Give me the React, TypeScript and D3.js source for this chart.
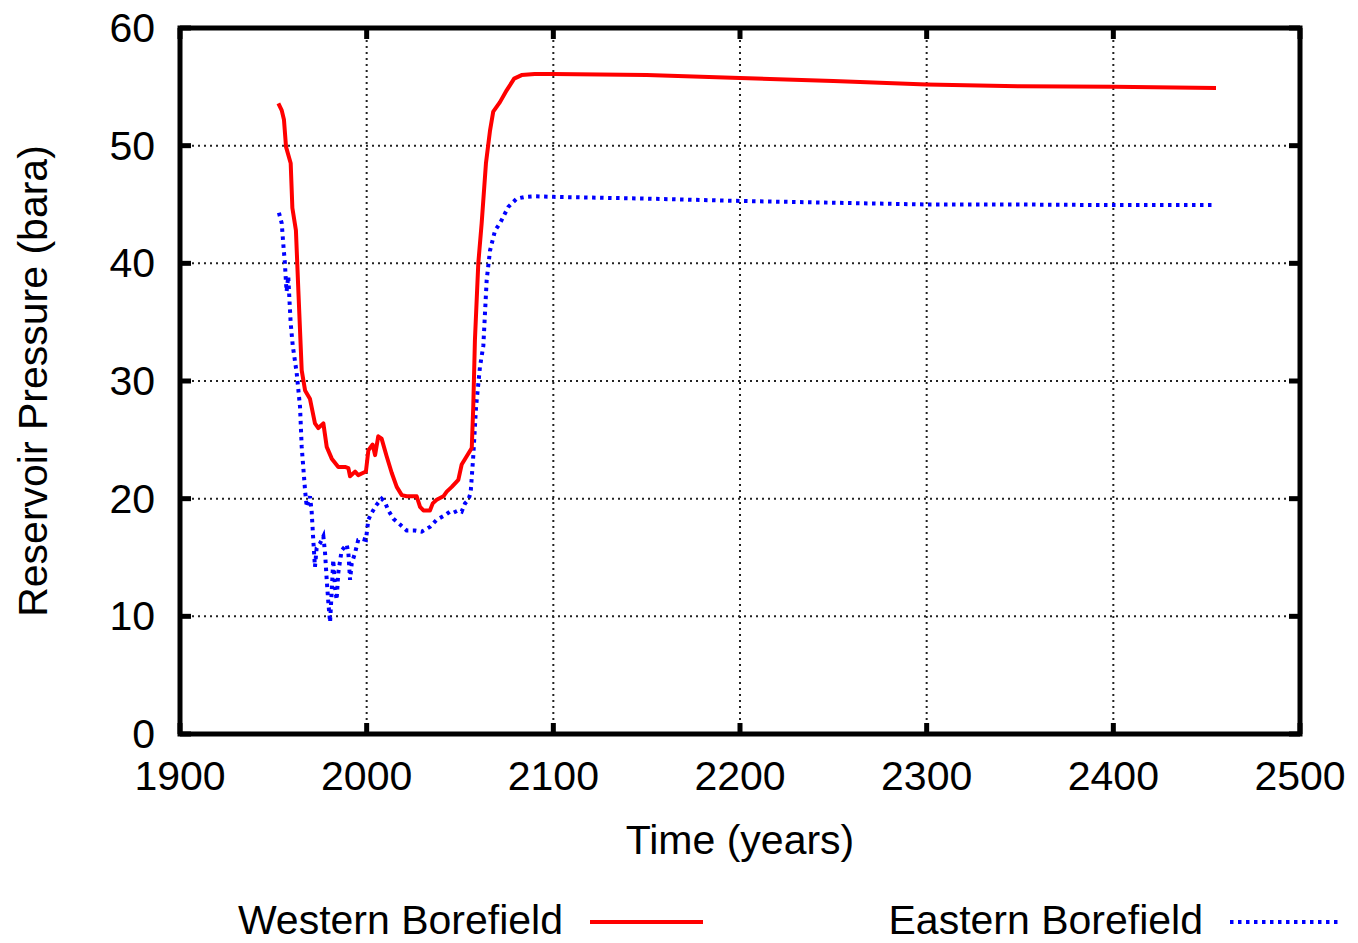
import React from "react";
import * as d3 from "d3";

// Western borefield (red, solid)
const westernYears = [1952.7, 1954.5, 1955.7, 1956.8, 1959.3, 1960.2, 1962.1, 1963.4, 1964.7, 1965.2, 1967, 1969.6, 1972.3, 1974.1, 1976.8, 1978.6, 1981.3, 1984.8, 1988.4, 1990.2, 1991.1, 1993.8, 1995.5, 1998.2, 1999.6, 2000.9, 2003.2, 2004.5, 2006.2, 2008, 2010.7, 2013.4, 2016.1, 2018.8, 2021.4, 2026.8, 2028.6, 2030.4, 2033.9, 2035.4, 2037.5, 2041.1, 2042.9, 2045.6, 2049.1, 2050.9, 2053.6, 2056.3, 2057.1, 2058, 2059.8, 2061.6, 2063.9, 2066.1, 2067.8, 2071.4, 2075, 2079, 2083, 2090, 2100, 2150, 2200, 2250, 2300, 2350, 2400, 2455];
const westernPressure = [53.6, 53.0, 52.2, 49.9, 48.5, 44.7, 42.8, 37.7, 32.8, 30.9, 29.2, 28.5, 26.4, 26.0, 26.4, 24.4, 23.4, 22.7, 22.7, 22.6, 21.9, 22.3, 22.0, 22.2, 22.3, 24.1, 24.6, 23.7, 25.3, 25.1, 23.6, 22.2, 21.0, 20.3, 20.2, 20.2, 19.3, 19.0, 19.0, 19.6, 19.9, 20.2, 20.6, 21.0, 21.6, 22.9, 23.6, 24.3, 27.8, 33.5, 40.0, 43.4, 48.5, 51.3, 52.9, 53.7, 54.7, 55.7, 56.0, 56.1, 56.1, 56.0, 55.75, 55.5, 55.2, 55.05, 55.0, 54.9];

// Eastern borefield (blue, dotted)
const easternYears = [1953, 1954.5, 1955.3, 1956.2, 1956.8, 1957.1, 1958, 1958.6, 1959.3, 1960.4, 1962.5, 1964.3, 1965.2, 1967, 1967.9, 1969.6, 1970.5, 1971.4, 1972.3, 1973.2, 1975, 1976.8, 1977.7, 1978.6, 1979.5, 1980.4, 1981.3, 1982.1, 1983, 1983.9, 1984.8, 1986.6, 1989.3, 1990.2, 1991.1, 1992, 1993.8, 1995.5, 1997.3, 1999.6, 2000.9, 2002.7, 2005.4, 2008, 2009.8, 2011.6, 2014.3, 2017.9, 2021.4, 2025.9, 2029.5, 2033.9, 2037.5, 2042, 2044.6, 2046.4, 2049.1, 2050.9, 2052.7, 2054.5, 2055.7, 2057.1, 2058.6, 2060.7, 2062.5, 2064.3, 2066.1, 2068.8, 2071.4, 2075.9, 2080.4, 2085, 2090, 2100, 2150, 2200, 2250, 2300, 2350, 2400, 2455];
const easternPressure = [44.3, 43.4, 41.7, 40.0, 38.3, 37.6, 38.9, 37.0, 34.9, 33.0, 30.7, 27.8, 24.4, 20.7, 19.3, 20.2, 19.0, 16.5, 14.2, 15.8, 16.2, 16.8, 15.4, 13.1, 11.1, 9.5, 12.2, 14.8, 12.5, 11.4, 13.7, 15.6, 16.1, 15.4, 13.1, 14.5, 15.4, 16.5, 16.6, 16.5, 18.2, 18.8, 19.5, 20.0, 19.7, 19.0, 18.3, 17.8, 17.3, 17.3, 17.2, 17.6, 18.2, 18.6, 18.9, 18.8, 19.0, 18.9, 19.6, 19.9, 20.5, 23.6, 27.8, 31.2, 33.0, 38.6, 41.1, 42.8, 43.4, 44.8, 45.5, 45.65, 45.7, 45.65, 45.5, 45.3, 45.15, 45.0, 45.0, 44.95, 44.95];

const xTicks = [1900, 2000, 2100, 2200, 2300, 2400, 2500];
const yTicks = [0, 10, 20, 30, 40, 50, 60];

const FONT = "'Liberation Sans', Arial, Helvetica, sans-serif";
const FS = 41;

export default function App() {
  const width = 1358;
  const height = 943;
  const plot = { left: 180, right: 1300, top: 28, bottom: 734 };

  const x = d3.scaleLinear().domain([1900, 2500]).range([plot.left, plot.right]);
  const y = d3.scaleLinear().domain([0, 60]).range([plot.bottom, plot.top]);

  const line = d3
    .line<[number, number]>()
    .x((d) => x(d[0]))
    .y((d) => y(d[1]));

  const western = westernYears.map((t, i) => [t, westernPressure[i]] as [number, number]);
  const eastern = easternYears.map((t, i) => [t, easternPressure[i]] as [number, number]);

  const tickLen = 11;

  return (
    <svg
      width={width}
      height={height}
      style={{ position: "absolute", left: 0, top: 0, background: "#fff" }}
      fontFamily={FONT}
    >
      {/* grid */}
      <g stroke="#222" strokeWidth={2} strokeDasharray="2,4">
        {xTicks.slice(1, -1).map((t) => (
          <line key={"gx" + t} x1={x(t)} x2={x(t)} y1={plot.top} y2={plot.bottom} />
        ))}
        {yTicks.slice(1, -1).map((t) => (
          <line key={"gy" + t} x1={plot.left} x2={plot.right} y1={y(t)} y2={y(t)} />
        ))}
      </g>

      {/* ticks (inward, all four sides) */}
      <g stroke="#000" strokeWidth={5}>
        {xTicks.map((t) => (
          <g key={"tx" + t}>
            <line x1={x(t)} x2={x(t)} y1={plot.bottom} y2={plot.bottom - tickLen} />
            <line x1={x(t)} x2={x(t)} y1={plot.top} y2={plot.top + tickLen} />
          </g>
        ))}
        {yTicks.map((t) => (
          <g key={"ty" + t}>
            <line x1={plot.left} x2={plot.left + tickLen} y1={y(t)} y2={y(t)} />
            <line x1={plot.right} x2={plot.right - tickLen} y1={y(t)} y2={y(t)} />
          </g>
        ))}
      </g>

      {/* series */}
      <path d={line(eastern) || ""} fill="none" stroke="#0000ff" strokeWidth={4} strokeDasharray="3.5,4.5" />
      <path d={line(western) || ""} fill="none" stroke="#ff0000" strokeWidth={4} strokeLinejoin="round" />

      {/* frame */}
      <rect
        x={plot.left}
        y={plot.top}
        width={plot.right - plot.left}
        height={plot.bottom - plot.top}
        fill="none"
        stroke="#000"
        strokeWidth={5}
      />

      {/* tick labels */}
      <g fontSize={FS} fill="#000">
        {xTicks.map((t) => (
          <text key={"lx" + t} x={x(t)} y={790} textAnchor="middle">
            {t}
          </text>
        ))}
        {yTicks.map((t) => (
          <text key={"ly" + t} x={155} y={y(t) + 14} textAnchor="end">
            {t}
          </text>
        ))}
      </g>

      {/* axis titles */}
      <text x={740} y={854} textAnchor="middle" fontSize={FS}>
        Time (years)
      </text>
      <text
        transform={`translate(47,381) rotate(-90)`}
        textAnchor="middle"
        fontSize={FS}
      >
        Reservoir Pressure (bara)
      </text>

      {/* legend */}
      <g fontSize={FS}>
        <text x={563} y={934} textAnchor="end">Western Borefield</text>
        <line x1={590} x2={703} y1={922} y2={922} stroke="#ff0000" strokeWidth={4} />
        <text x={1203} y={934} textAnchor="end">Eastern Borefield</text>
        <line x1={1230} x2={1340} y1={922} y2={922} stroke="#0000ff" strokeWidth={4} strokeDasharray="3.5,4.5" />
      </g>
    </svg>
  );
}
